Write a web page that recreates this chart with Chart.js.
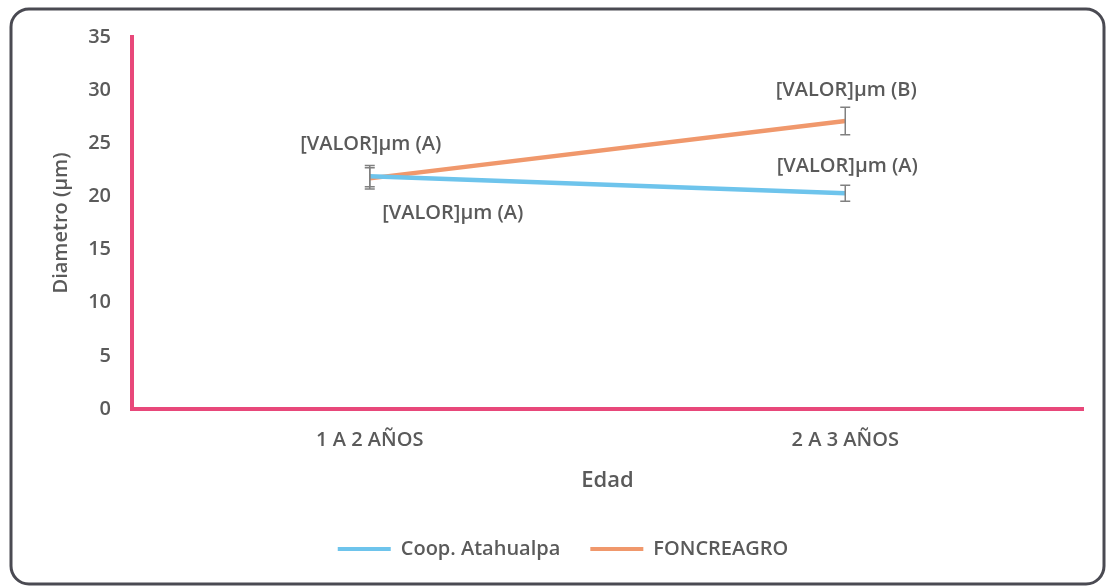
<!DOCTYPE html>
<html lang="es">
<head>
    <meta charset="utf-8" />
    <title>Diametro por edad</title>
    <script src="https://cdn.jsdelivr.net/npm/chart.js"></script>
    <style>
        html, body { margin: 0; padding: 0; background: #fff; }
        #wrap { width: 1109px; height: 586px; position: relative; }
    </style>
</head>
<body>
    <div id="wrap"><canvas id="chart" width="1109" height="586"></canvas></div>
    <script>
        // data
        const categories = ['1 A 2 AÑOS', '2 A 3 AÑOS'];
        const seriesNames = ['Coop. Atahualpa', 'FONCREAGRO'];
        const coopValues = [21.9, 20.3];
        const foncValues = [21.7, 27.1];
        const coopErrors = [1.0, 0.75];
        const foncErrors = [1.0, 1.3];
        const coopLetters = ['A', 'A'];
        const foncLetters = ['A', 'B'];
        const yTicks = [0, 5, 10, 15, 20, 25, 30, 35];

        const textGray = '#5a5a5a';
        const fontFamily = '"Open Sans", Lato, sans-serif';
        const font = (size) => ({ family: fontFamily, size: size, weight: '600' });

        // rounded frame around the whole chart
        const framePlugin = {
            id: 'frame',
            beforeDraw(chart) {
                const ctx = chart.ctx;
                ctx.save();
                ctx.strokeStyle = '#4a4a52';
                ctx.lineWidth = 3;
                ctx.beginPath();
                ctx.roundRect(11, 9, 1093, 575, 18);
                ctx.stroke();
                ctx.restore();
            }
        };

        // error bars (grey, capped)
        const errorBarPlugin = {
            id: 'errorBars',
            afterDatasetsDraw(chart) {
                const ctx = chart.ctx;
                const y = chart.scales.y;
                ctx.save();
                ctx.strokeStyle = '#808080';
                ctx.lineWidth = 1.5;
                chart.data.datasets.forEach((ds, di) => {
                    const meta = chart.getDatasetMeta(di);
                    meta.data.forEach((pt, i) => {
                        const v = ds.data[i], e = ds.errors[i];
                        const top = y.getPixelForValue(v + e);
                        const bot = y.getPixelForValue(v - e);
                        ctx.beginPath();
                        ctx.moveTo(pt.x, top); ctx.lineTo(pt.x, bot);
                        ctx.moveTo(pt.x - 5, top); ctx.lineTo(pt.x + 5, top);
                        ctx.moveTo(pt.x - 5, bot); ctx.lineTo(pt.x + 5, bot);
                        ctx.stroke();
                    });
                });
                ctx.restore();
            }
        };

        // "[VALOR]µm (X)" labels next to points
        const labelPlugin = {
            id: 'valueLabels',
            afterDatasetsDraw(chart, args, opts) {
                const ctx = chart.ctx;
                ctx.save();
                ctx.fillStyle = textGray;
                ctx.font = '600 20px ' + fontFamily;
                ctx.textAlign = 'center';
                ctx.textBaseline = 'middle';
                chart.data.datasets.forEach((ds, di) => {
                    const meta = chart.getDatasetMeta(di);
                    meta.data.forEach((pt, i) => {
                        const off = opts.offsets[di][i];
                        ctx.fillText('[VALOR]µm (' + ds.letters[i] + ')', pt.x + off[0], pt.y + off[1]);
                    });
                });
                ctx.restore();
            }
        };

        const ctx = document.getElementById('chart').getContext('2d');
        new Chart(ctx, {
            type: 'line',
            data: {
                labels: categories,
                datasets: [
                    {
                        label: seriesNames[0],
                        data: coopValues,
                        errors: coopErrors,
                        letters: coopLetters,
                        borderColor: '#6ec4ec',
                        backgroundColor: '#6ec4ec',
                        borderWidth: 4.5,
                        pointRadius: 0
                    },
                    {
                        label: seriesNames[1],
                        data: foncValues,
                        errors: foncErrors,
                        letters: foncLetters,
                        borderColor: '#f0986c',
                        backgroundColor: '#f0986c',
                        borderWidth: 4.5,
                        pointRadius: 0
                    }
                ]
            },
            options: {
                responsive: false,
                animation: false,
                devicePixelRatio: 1,
                layout: { padding: { top: 37, right: 26, left: 43, bottom: 17 } },
                scales: {
                    x: {
                        offset: true,
                        afterFit(scale) { scale.height = 100; },
                        grid: { display: false, drawTicks: false },
                        border: { color: '#e8487a', width: 4 },
                        ticks: { color: textGray, font: font(20), padding: 19 },
                        title: { display: true, text: 'Edad', color: textGray, font: font(22), padding: { top: 0, bottom: 15 } }
                    },
                    y: {
                        min: 0, max: 35,
                        afterFit(scale) { scale.width = 89; },
                        afterBuildTicks(scale) { scale.ticks = yTicks.map(v => ({ value: v })); },
                        grid: { display: false, drawTicks: false },
                        border: { color: '#e8487a', width: 4 },
                        ticks: { color: textGray, font: font(20), padding: 21 },
                        title: { display: true, text: 'Diametro (µm)', color: textGray, font: font(20), padding: { top: 6, bottom: 0 } }
                    }
                },
                plugins: {
                    legend: {
                        position: 'bottom',
                        labels: {
                            color: textGray,
                            font: font(20),
                            boxWidth: 53,
                            boxHeight: 4,
                            padding: 30,
                            generateLabels(chart) {
                                return chart.data.datasets.map((ds, i) => ({
                                    text: ds.label,
                                    fillStyle: ds.borderColor,
                                    strokeStyle: ds.borderColor,
                                    lineWidth: 0,
                                    datasetIndex: i,
                                    fontColor: textGray
                                }));
                            }
                        }
                    },
                    tooltip: { enabled: false },
                    valueLabels: {
                        offsets: [
                            [[83, 37], [2, -27]],
                            [[1, -34], [1, -31]]
                        ]
                    }
                }
            },
            plugins: [framePlugin, errorBarPlugin, labelPlugin]
        });
    </script>
</body>
</html>
